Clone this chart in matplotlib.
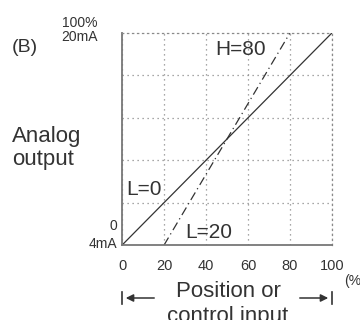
import matplotlib
matplotlib.use('Agg')
import matplotlib.pyplot as plt
from matplotlib.patches import FancyArrowPatch

plt.rcParams['font.family'] = ['Liberation Sans', 'DejaVu Sans']

# data
ticks = [0, 20, 40, 60, 80, 100]
tick_labels = ['0', '20', '40', '60', '80', '100']
solid_x = [0, 100]
solid_y = [0, 100]
dashed_x = [20, 80]
dashed_y = [0, 100]

ink = '#333333'
grid_c = '#8a8a8a'

fig = plt.figure(figsize=(3.6, 3.2), dpi=100)
ax = fig.add_axes([0.339, 0.234, 0.583, 0.663])

ax.plot(solid_x, solid_y, color=ink, lw=0.9)
ax.plot(dashed_x, dashed_y, color=ink, lw=0.9, dashes=(7, 3, 1, 3))

ax.set_xlim(0, 100)
ax.set_ylim(0, 100)
ax.set_xticks(ticks)
ax.set_xticklabels(tick_labels)
ax.set_yticks([20, 40, 60, 80])
ax.set_yticklabels([])
ax.tick_params(length=0, labelsize=10.5, colors=ink, pad=10)
ax.grid(True, ls=(0, (1, 3)), color=grid_c, lw=0.9)

for s in ['top', 'right']:
    ax.spines[s].set_linestyle((0, (1, 3)))
    ax.spines[s].set_color(grid_c)
    ax.spines[s].set_linewidth(0.9)
for s in ['left', 'bottom']:
    ax.spines[s].set_color('#777777')
    ax.spines[s].set_linewidth(1.3)

# labels inside
ax.text(1.9, 26.2, 'L=0', fontsize=15, color=ink, va='center')
ax.text(30, 6.1, 'L=20', fontsize=15, color=ink, va='center')
ax.text(44.3, 92, 'H=80', fontsize=15, color=ink, va='center')

# outer texts
fig.text(12 / 360, 1 - 48 / 320, '(B)', fontsize=14, color=ink, va='center')
fig.text(80 / 360, 1 - 30 / 320, '100%\n20mA', fontsize=10, color=ink,
         ha='center', va='center', linespacing=1.05)
fig.text(12 / 360, 1 - 148 / 320, 'Analog\noutput', fontsize=16, color=ink,
         va='center', linespacing=1.15)
fig.text(117 / 360, 1 - 235 / 320, '0\n4mA', fontsize=10, color=ink,
         ha='right', va='center', ma='right', linespacing=1.35)
fig.text(228 / 360, 1 - 304 / 320, 'Position or\ncontrol input', fontsize=16,
         color=ink, ha='center', va='center', linespacing=1.2)
fig.text(344 / 360, 1 - 281 / 320, '(%', fontsize=10, color=ink, va='center')

# arrows
y_arr = 1 - 298 / 320
fig.patches.append(FancyArrowPatch(
    (157 / 360, y_arr), (123 / 360, y_arr),
    transform=fig.transFigure, arrowstyle='-|>', mutation_scale=11,
    color=ink, lw=1.1))
fig.add_artist(plt.Line2D([122 / 360, 122 / 360], [y_arr + 6 / 320, y_arr - 6 / 320],
                          color=ink, lw=1.2))
fig.patches.append(FancyArrowPatch(
    (297 / 360, y_arr), (331 / 360, y_arr),
    transform=fig.transFigure, arrowstyle='-|>', mutation_scale=11,
    color=ink, lw=1.1))
fig.add_artist(plt.Line2D([332 / 360, 332 / 360], [y_arr + 6 / 320, y_arr - 6 / 320],
                          color=ink, lw=1.2))

fig.savefig('out.png', dpi=100)
